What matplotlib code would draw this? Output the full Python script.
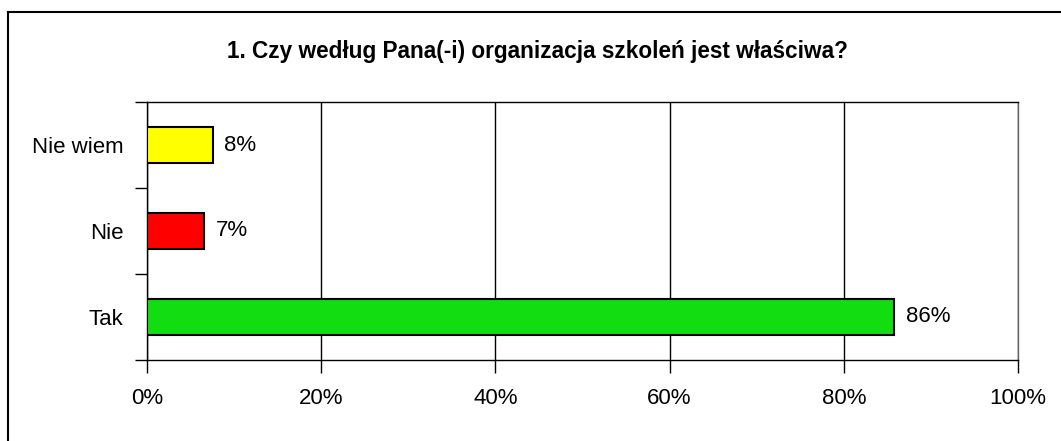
# plot.py - horizontal bar chart of survey answers

import numpy as np
import matplotlib
matplotlib.use("Agg")
import matplotlib.pyplot as plt
from matplotlib.lines import Line2D

plt.rcParams['font.family'] = ['Liberation Sans', 'DejaVu Sans']

title = "1. Czy według Pana(-i) organizacja szkoleń jest właściwa?"
categories = ["Tak", "Nie", "Nie wiem"]
values = [85.8, 6.6, 7.6]  # percent
colors = ["#11DD11", "#FF0000", "#FFFF00"]
xticks = [0, 20, 40, 60, 80, 100]

fig = plt.figure(figsize=(10.61, 4.41), dpi=100)
ax = fig.add_axes([0.1385, 0.1837, 0.821, 0.5850])

y = np.arange(len(categories))
ax.barh(y, values, height=0.41, color=colors, edgecolor="black", linewidth=1.5, zorder=3)

# value labels next to each bar
for yi, v in zip(y, values):
    ax.text(v + 1.3, yi, f"{round(v)}%", va="center", ha="left", fontsize=16, zorder=4)

ax.set_xlim(0, 100)
ax.set_ylim(-0.5, len(categories) - 0.5)
ax.set_xticks(xticks)
ax.set_xticklabels([f"{t}%" for t in xticks], fontsize=16)
ax.set_yticks(y)
ax.set_yticklabels(categories, fontsize=16)
ax.set_yticks(np.arange(-0.5, len(categories), 1.0), minor=True)

ax.tick_params(axis="y", which="major", length=0, pad=17)
ax.tick_params(axis="y", which="minor", length=9, width=1, direction="out")
ax.tick_params(axis="x", which="major", length=9, width=1, direction="out", pad=11)

ax.grid(axis="x", color="black", linewidth=1, zorder=0)
for s in ax.spines.values():
    s.set_color("black")
    s.set_linewidth(1)
ax.spines["right"].set_color("#666666")

fig.text(0.507, 0.884, title, ha="center", va="center", fontsize=16.3, fontweight="bold")

# outer chart frame (only top and left visible)
fig.add_artist(Line2D([8/1061, 1.0], [1 - 12/441] * 2, color="black", linewidth=1.5))
fig.add_artist(Line2D([8/1061] * 2, [0.0, 1 - 12/441], color="black", linewidth=1.5))

fig.savefig("out.png", dpi=100)
